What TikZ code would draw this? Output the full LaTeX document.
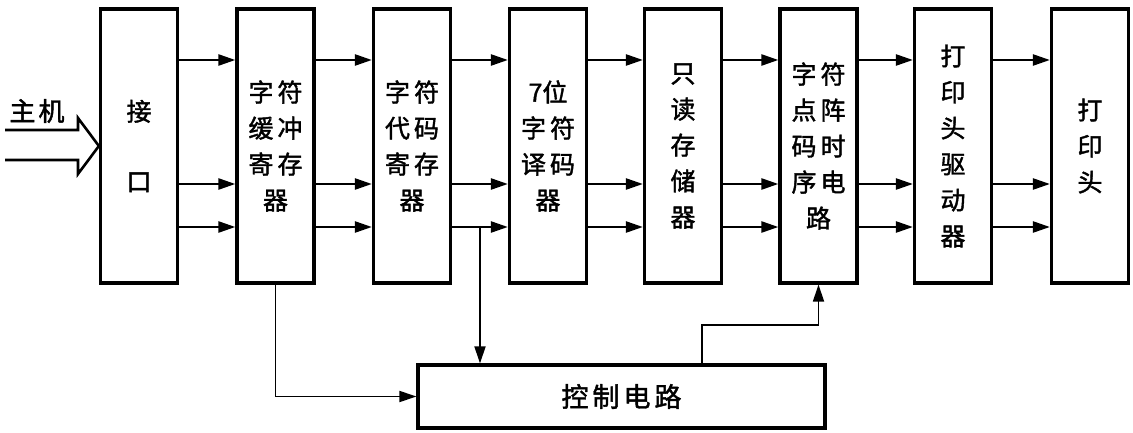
\documentclass[tikz,border=0pt]{standalone}
\usepackage{fontspec}
\newfontfamily\cjk[FakeBold=1.6]{Noto Sans CJK SC}
\usetikzlibrary{arrows.meta}
\newcommand\gp{\hspace{4pt}}
\begin{document}
\begin{tikzpicture}[x=1pt,y=-1pt,
  blk/.style={draw, line width=3.2pt, minimum width=77pt, minimum height=274pt, inner sep=0pt, align=center, font=\cjk\fontsize{25}{36}\selectfont},
  arr/.style={line width=2.4pt, -{Triangle[length=17pt,width=11pt]}},
  thinarr/.style={line width=1.8pt, -{Triangle[length=17pt,width=11pt]}},
  lbl/.style={font=\cjk\fontsize{26}{30}\selectfont, inner sep=0pt}]
\useasboundingbox (0,0) rectangle (1133,433);
\node[blk] (b1) at (139,146) {接\\[34pt]口};
\node[blk] (b2) at (275.5,146) {字\gp 符\\缓\gp 冲\\寄\gp 存\\器};
\node[blk] (b3) at (412,146) {字\gp 符\\代\gp 码\\寄\gp 存\\器};
\node[blk] (b4) at (548,146) {7位\\字\gp 符\\译\gp 码\\器};
\node[blk] (b5) at (683,146) {只\\读\\存\\储\\器};
\node[blk] (b6) at (818.5,146) {字\gp 符\\点\gp 阵\\码\gp 时\\序\gp 电\\路};
\node[blk] (b7) at (953,146) {打\\印\\头\\驱\\动\\器};
\node[blk] (b8) at (1090,146) {打\\印\\头};
\node[draw, line width=3.2pt, minimum width=407pt, minimum height=63pt, inner sep=0pt,
      font=\cjk\fontsize{27}{30}\selectfont] (ctrl) at (621.5,396.5) {控\gp 制\gp 电\gp 路};
\node[lbl] (host) at (37,111) {主\hspace{3pt}机};
% host double arrow
\draw[line width=2.6pt, line join=miter] (5,130) -- (78,130) -- (78,118) -- (b1.west) -- (78,174) -- (78,160) -- (5,160);
% bus arrows
\foreach \a/\b in {b1/b2,b2/b3,b3/b4,b4/b5,b5/b6,b6/b7,b7/b8}{
  \foreach \yy in {60,184,227}{
    \draw[arr] (\a.east |- 0,\yy) -- (\b.west |- 0,\yy);
  }
}
% control connections
\draw[thinarr] (b2.south) |- (ctrl.west);
\coordinate (br) at (480,227);
\draw[thinarr] (br) -- (br |- ctrl.north);
\coordinate (c1) at (702,325);
\draw[thinarr] (c1 |- ctrl.north) -- (c1) -| (b6.south);
\end{tikzpicture}
\end{document}
